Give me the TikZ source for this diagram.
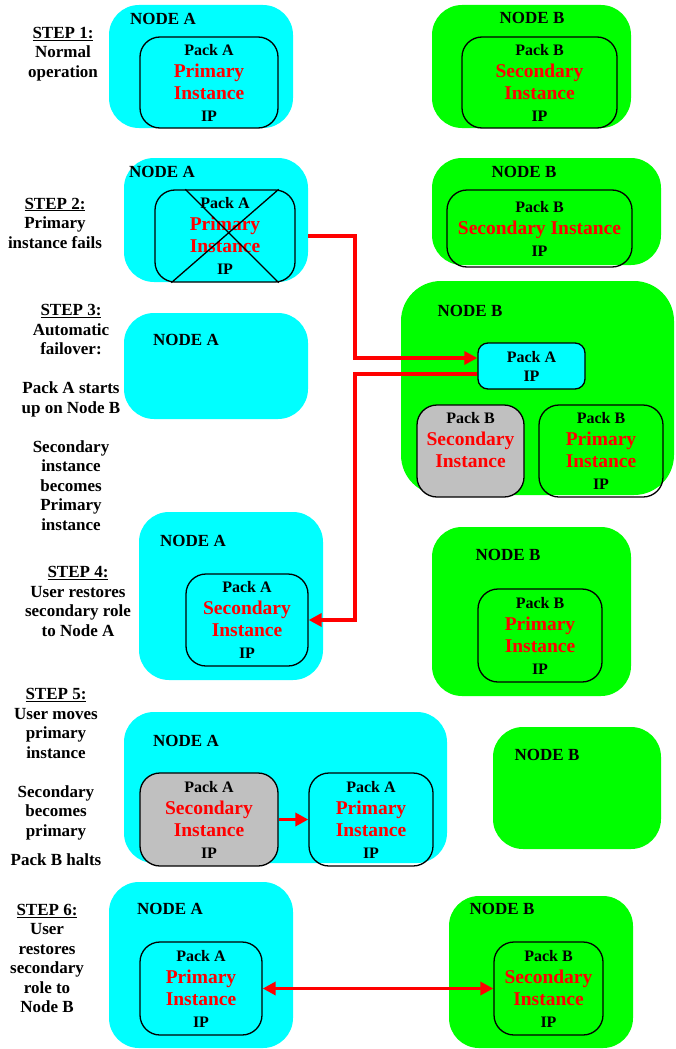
\documentclass[tikz,border=0pt]{standalone}
\usepackage{fontspec}
\setmainfont{Liberation Serif}
\usetikzlibrary{arrows.meta,positioning,calc}
\definecolor{nodecyan} {HTML}{00FFFF}
\definecolor{nodegreen}{HTML}{00FF00}
\definecolor{haltgray} {HTML}{C0C0C0}
\definecolor{rolered}  {HTML}{FF0000}
\newcommand{\role}[1]{{\color{rolered}\fontsize{19.5}{22}\selectfont #1}}

\begin{document}
\begin{tikzpicture}[x=1pt,y=-1pt,
  >={Triangle[length=13pt,width=13pt]},
  hostA/.style={fill=nodecyan, rounded corners=30pt, inner sep=0pt},
  hostB/.style={fill=nodegreen, rounded corners=30pt, inner sep=0pt},
  hostlbl/.style={font=\bfseries\fontsize{17}{20}\selectfont, inner sep=0pt},
  pack/.style={draw, line width=1.3pt, rounded corners=20pt, align=center,
               inner sep=0pt, font=\bfseries\fontsize{16}{22}\selectfont},
  steptext/.style={align=center, inner sep=0pt,
                   font=\bfseries\fontsize{17}{19.5}\selectfont},
  flow/.style={draw=rolered, line width=3.5pt, ->}]
  \useasboundingbox (0,0) rectangle (675,1049);

  % step 1: normal operation
  \node[steptext] (s1) at (63,54) {\underline{STEP 1:}\\Normal\\operation};
  \node[hostA, minimum width=184pt, minimum height=123pt] (nA1) at (201,66.5) {};
  \node[hostlbl] (lA1) at (163,19) {NODE A};
  \node[pack, minimum width=138pt, minimum height=91pt] (pA1) at (209,82.5)
    {Pack A\\\role{Primary}\\\role{Instance}\\IP};
  \node[hostB, minimum width=199pt, minimum height=123pt] (nB1) at (531.5,66.5) {};
  \node[hostlbl] (lB1) at (532,18) {NODE B};
  \node[pack, minimum width=155pt, minimum height=91pt] (pB1) at (539.5,82.5)
    {Pack B\\\role{Secondary}\\\role{Instance}\\IP};

  % step 2: primary fails
  \node[steptext] (s2) at (55,223) {\underline{STEP 2:}\\Primary\\instance fails};
  \node[hostA, minimum width=184pt, minimum height=124pt] (nA2) at (216,220) {};
  \node[hostlbl] (lA2) at (162,172) {NODE A};
  \node[pack, minimum width=140pt, minimum height=92pt] (pA2) at (225,236)
    {Pack A\\\role{Primary}\\\role{Instance}\\IP};
  \draw[line width=1.3pt] ([xshift=31pt]pA2.north west) -- ([xshift=-17pt]pA2.south east)
                          ([xshift=-17pt]pA2.north east) -- ([xshift=17pt]pA2.south west);
  \node[hostB, minimum width=229pt, minimum height=107pt] (nB2) at (546.5,211.5) {};
  \node[hostlbl] (lB2) at (524,172) {NODE B};
  \node[pack, minimum width=185pt, minimum height=77pt] (pB2) at (539.5,228.5)
    {Pack B\\\role{Secondary Instance}\\IP};

  % step 3: failover to node B
  \node[steptext] (s3) at (71,417.5) {\underline{STEP 3:}\\Automatic\\failover:\\[19.5pt]
    Pack A starts\\up on Node B\\[19.5pt]Secondary\\instance\\becomes\\Primary\\instance};
  \node[hostA, minimum width=184pt, minimum height=106pt] (nA3) at (216,366) {};
  \node[hostlbl] (lA3) at (186,340) {NODE A};
  \node[hostB, rounded corners=40pt, minimum width=273pt, minimum height=214pt] (nB3) at (537.5,388) {};
  \node[hostlbl] (lB3) at (470,311) {NODE B};
  \node[pack, fill=nodecyan, rounded corners=10pt, minimum width=107pt, minimum height=46pt,
        font=\bfseries\fontsize{16}{19}\selectfont] (pA3) at (531.5,366) {Pack A\\IP};
  \node[pack, fill=haltgray, minimum width=107pt, minimum height=92pt] (pBs3) at (470.5,451)
    {Pack B\\\role{Secondary}\\\role{Instance}\\\phantom{IP}};
  \node[pack, minimum width=124pt, minimum height=92pt] (pBp3) at (601,451)
    {Pack B\\\role{Primary}\\\role{Instance}\\IP};

  % step 4: secondary role back to node A
  \node[steptext] (s4) at (78,601.5) {\underline{STEP 4:}\\User restores\\secondary role\\to Node A};
  \node[hostA, minimum width=184pt, minimum height=168pt] (nA4) at (231,596) {};
  \node[hostlbl] (lA4) at (193,541) {NODE A};
  \node[pack, minimum width=122pt, minimum height=92pt] (pA4) at (247,620)
    {Pack A\\\role{Secondary}\\\role{Instance}\\IP};
  \node[hostB, minimum width=199pt, minimum height=169pt] (nB4) at (531.5,611.5) {};
  \node[hostlbl] (lB4) at (508,555) {NODE B};
  \node[pack, minimum width=124pt, minimum height=93pt] (pB4) at (540,635.5)
    {Pack B\\\role{Primary}\\\role{Instance}\\IP};

  % failover and restore connectors
  \coordinate (railX) at (355,0);
  \coordinate (toB) at ([yshift=8pt]pA3.west);
  \coordinate (fromB) at ([yshift=-8pt]pA3.west);
  \draw[flow] (nA2.east |- pA2) -- (railX |- pA2) -- (railX |- toB) -- (toB);
  \draw[flow] (fromB) -- (railX |- fromB) -- (railX |- pA4.east) -- (pA4.east);

  % step 5: user moves primary
  \node[steptext] (s5) at (56,777) {\underline{STEP 5:}\\User moves\\primary\\instance\\[19.5pt]
    Secondary\\becomes\\primary\\[10pt]Pack B halts};
  \node[hostA, minimum width=323pt, minimum height=151pt] (nA5) at (285.5,787.5) {};
  \node[hostlbl] (lA5) at (186,741) {NODE A};
  \node[pack, fill=haltgray, minimum width=138pt, minimum height=93pt] (pAs5) at (209,819.5)
    {Pack A\\\role{Secondary}\\\role{Instance}\\IP};
  \node[pack, minimum width=124pt, minimum height=93pt] (pAp5) at (371,819.5)
    {Pack A\\\role{Primary}\\\role{Instance}\\IP};
  \draw[flow] (pAs5) -- (pAp5);
  \node[hostB, minimum width=168pt, minimum height=122pt] (nB5) at (577,788) {};
  \node[hostlbl] (lB5) at (547,755) {NODE B};

  % step 6: secondary role back to node B
  \node[steptext] (s6) at (47,958.5) {\underline{STEP 6:}\\User\\restores\\secondary\\role to\\Node B};
  \node[hostA, minimum width=184pt, minimum height=166pt] (nA6) at (201,965) {};
  \node[hostlbl] (lA6) at (170,909) {NODE A};
  \node[pack, minimum width=122pt, minimum height=93pt] (pA6) at (201,988.5)
    {Pack A\\\role{Primary}\\\role{Instance}\\IP};
  \node[hostB, minimum width=184pt, minimum height=152pt] (nB6) at (541,972) {};
  \node[hostlbl] (lB6) at (502,909) {NODE B};
  \node[pack, minimum width=109pt, minimum height=93pt] (pB6) at (548.5,988.5)
    {Pack B\\\role{Secondary}\\\role{Instance}\\IP};
  \draw[flow, <->] (pA6) -- (pB6);
\end{tikzpicture}
\end{document}
